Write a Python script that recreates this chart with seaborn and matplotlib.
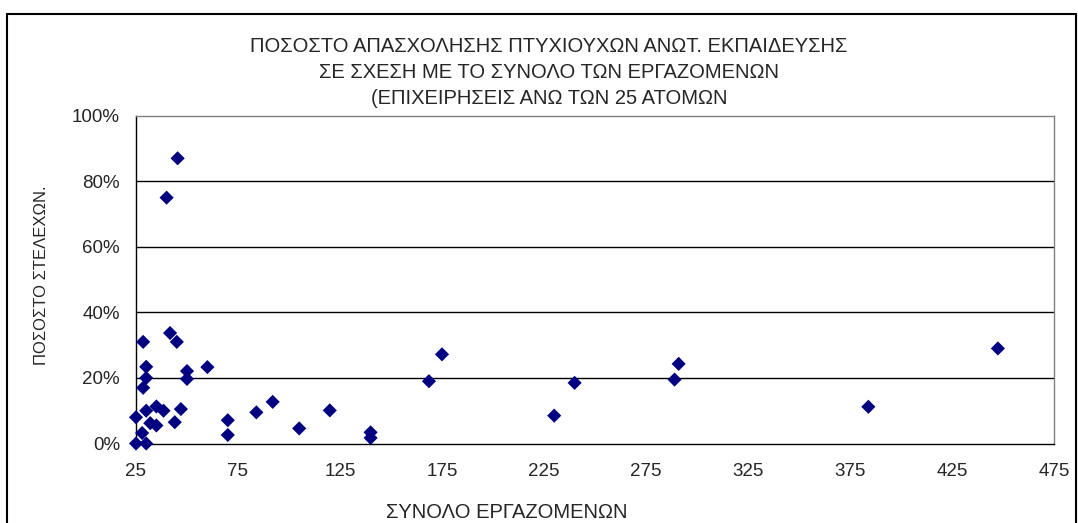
import matplotlib
matplotlib.use("Agg")
import matplotlib.pyplot as plt
import seaborn as sns
import pandas as pd
from matplotlib.ticker import PercentFormatter, FixedLocator
from matplotlib.patches import Rectangle

# ---- data ----
employees = [25, 25, 30, 28, 30, 35, 38.5, 47, 32, 35, 44, 28.5, 41.7, 45, 30, 30, 28.5,
             50, 50, 60, 40, 45.4, 70, 70, 84, 92, 105, 120, 140, 140, 168.6, 175,
             230, 240, 289, 291, 384, 447.5]
share = [8.0, 0.0, 0.0, 3.2, 10.0, 11.3, 10.0, 10.5, 6.2, 5.5, 6.5, 31.0, 33.7, 31.0, 23.4, 20.0, 17.0,
         22.1, 19.7, 23.3, 75.0, 87.0, 7.1, 2.6, 9.5, 12.7, 4.6, 10.1, 3.4, 1.7, 19.0, 27.2,
         8.5, 18.5, 19.5, 24.3, 11.2, 29.0]
x_ticks = [25, 75, 125, 175, 225, 275, 325, 375, 425, 475]
y_ticks = [0, 20, 40, 60, 80, 100]
title_lines = ["ΠΟΣΟΣΤΟ ΑΠΑΣΧΟΛΗΣΗΣ ΠΤΥΧΙΟΥΧΩΝ ΑΝΩΤ. ΕΚΠΑΙΔΕΥΣΗΣ",
               "ΣΕ ΣΧΕΣΗ ΜΕ ΤΟ ΣΥΝΟΛΟ ΤΩΝ ΕΡΓΑΖΟΜΕΝΩΝ",
               "(ΕΠΙΧΕΙΡΗΣΕΙΣ ΑΝΩ ΤΩΝ 25 ΑΤΟΜΩΝ"]
x_label = "ΣΥΝΟΛΟ ΕΡΓΑΖΟΜΕΝΩΝ"
y_label = "ΠΟΣΟΣΤΟ ΣΤΕΛΕΧΩΝ."

df = pd.DataFrame({"employees": employees, "share": share})

sns.set_style("white")
plt.rcParams["font.family"] = ["Liberation Sans", "DejaVu Sans"]

W, H = 1078, 523
fig = plt.figure(figsize=(W / 100, H / 100), dpi=100)
fig.patch.set_facecolor("white")

left, right, top, bottom = 136, 1054, 115.7, 443.5
ax = fig.add_axes([left / W, 1 - bottom / H, (right - left) / W, (bottom - top) / H])

sns.scatterplot(data=df, x="employees", y="share", marker="D", s=52, color="#000080",
                edgecolor="none", linewidth=0, ax=ax, clip_on=False, zorder=3)

ax.set_xlim(25, 475)
ax.set_ylim(0, 100)
ax.xaxis.set_major_locator(FixedLocator(x_ticks))
ax.yaxis.set_major_locator(FixedLocator(y_ticks))
ax.yaxis.set_major_formatter(PercentFormatter(100, decimals=0))

for yv in y_ticks[1:-1]:
    ax.axhline(yv, color="black", linewidth=1.0, zorder=1)

ax.spines["left"].set_color("black")
ax.spines["bottom"].set_color("black")
ax.spines["top"].set_color("#808080")
ax.spines["right"].set_color("#808080")
for sp in ax.spines.values():
    sp.set_linewidth(1.0)

ax.tick_params(axis="both", direction="out", length=4.5, width=1, color="black",
               labelsize=13.5)
ax.tick_params(axis="x", pad=9.5)
ax.tick_params(axis="y", pad=7)
ax.set_xlabel("")
ax.set_ylabel("")

# axis titles
fig.text(507 / W, 1 - 512 / H, x_label, ha="center", va="center", fontsize=14.5)
fig.text(42 / W, 1 - 275 / H, y_label, ha="center", va="center", rotation=90, fontsize=12)

# chart title
for i, line in enumerate(title_lines):
    fig.text(549 / W, 1 - (46 + 26 * i) / H, line, ha="center", va="center", fontsize=14.5)

# outer chart frame
fig.patches.append(Rectangle((7 / W, -0.05), (1076 - 7) / W, 1 - 14 / H + 0.05,
                             transform=fig.transFigure, fill=False, edgecolor="black",
                             linewidth=1.5))

fig.savefig("out.png", dpi=100)
